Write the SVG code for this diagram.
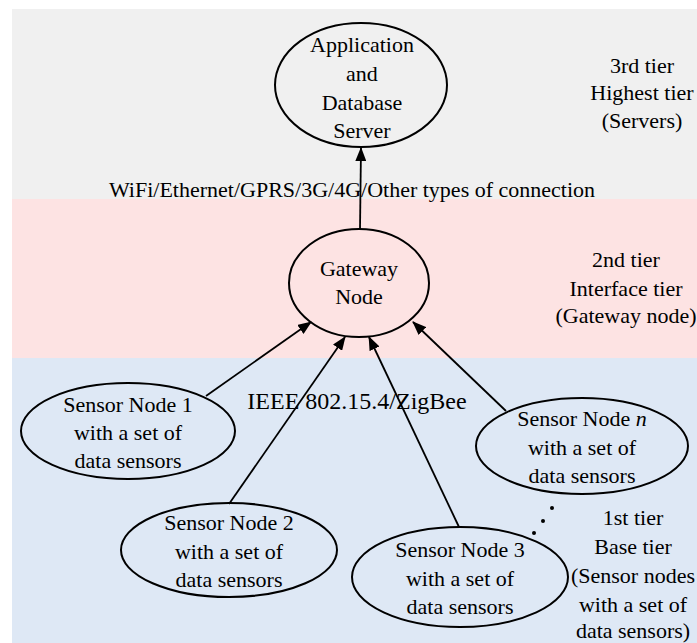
<svg xmlns="http://www.w3.org/2000/svg" width="697" height="643" viewBox="0 0 697 643">
<style>
text{font-family:"Liberation Serif","Times New Roman",serif;font-size:22px;fill:#000;text-anchor:middle}
.node{fill:none;stroke:#000;stroke-width:2}
.conn{stroke:#000;stroke-width:1.8;fill:none;marker-end:url(#arr)}
</style>
<defs>
<marker id="arr" viewBox="0 0 14 11" refX="13" refY="5.5" markerWidth="14" markerHeight="11" markerUnits="userSpaceOnUse" orient="auto">
<path d="M0,0 L14,5.5 L0,11 Z" fill="#000"/>
</marker>
</defs>
<rect x="0" y="0" width="697" height="643" fill="#fff"/>
<g id="bands">
<rect x="12" y="9" width="685" height="190" fill="#f0f0f0"/>
<rect x="12" y="199" width="685" height="159" fill="#fde3e3"/>
<rect x="12" y="358" width="685" height="285" fill="#dee8f5"/>
</g>
<g id="connectors">
<line class="conn" x1="360" y1="229" x2="361" y2="148"/>
<line class="conn" x1="206" y1="396" x2="311" y2="322"/>
<line class="conn" x1="229" y1="504" x2="345" y2="337"/>
<line class="conn" x1="459" y1="527" x2="369" y2="337"/>
<line class="conn" x1="506" y1="411" x2="413" y2="322"/>
</g>
<g id="app">
<ellipse class="node" cx="361" cy="85" rx="86" ry="62"/>
<text x="362" y="52">Application</text>
<text x="362" y="81">and</text>
<text x="362" y="110">Database</text>
<text x="362" y="138">Server</text>
</g>
<g id="gateway">
<ellipse class="node" cx="359" cy="283" rx="70" ry="54"/>
<text x="359" y="276">Gateway</text>
<text x="359" y="304">Node</text>
</g>
<g id="sn1">
<ellipse class="node" cx="128" cy="431" rx="107" ry="48"/>
<text x="128" y="412">Sensor Node 1</text>
<text x="128" y="440">with a set of</text>
<text x="128" y="468">data sensors</text>
</g>
<g id="sn2">
<ellipse class="node" cx="229" cy="550" rx="108" ry="47"/>
<text x="229" y="530">Sensor Node 2</text>
<text x="229" y="559">with a set of</text>
<text x="229" y="587">data sensors</text>
</g>
<g id="sn3">
<ellipse class="node" cx="460" cy="577" rx="108" ry="50"/>
<text x="460" y="557">Sensor Node 3</text>
<text x="460" y="586">with a set of</text>
<text x="460" y="614">data sensors</text>
</g>
<g id="snn">
<ellipse class="node" cx="582" cy="446" rx="106" ry="48"/>
<text x="582" y="426">Sensor Node <tspan font-style="italic">n</tspan></text>
<text x="582" y="455">with a set of</text>
<text x="582" y="483">data sensors</text>
</g>
<g id="dots" fill="#000">
<circle cx="552" cy="508" r="2"/>
<circle cx="543" cy="521" r="2"/>
<circle cx="534" cy="533" r="2"/>
</g>
<g id="labels">
<text x="352" y="197">WiFi/Ethernet/GPRS/3G/4G/Other types of connection</text>
<text x="357" y="409" style="font-size:24px">IEEE 802.15.4/ZigBee</text>
<text x="642" y="73">3rd tier</text>
<text x="642" y="100">Highest tier</text>
<text x="642" y="128">(Servers)</text>
<text x="626" y="267">2nd tier</text>
<text x="626" y="296">Interface tier</text>
<text x="626" y="323">(Gateway node)</text>
<text x="633" y="525">1st tier</text>
<text x="633" y="554">Base tier</text>
<text x="633" y="583">(Sensor nodes</text>
<text x="633" y="612">with a set of</text>
<text x="633" y="638">data sensors)</text>
</g>
</svg>
